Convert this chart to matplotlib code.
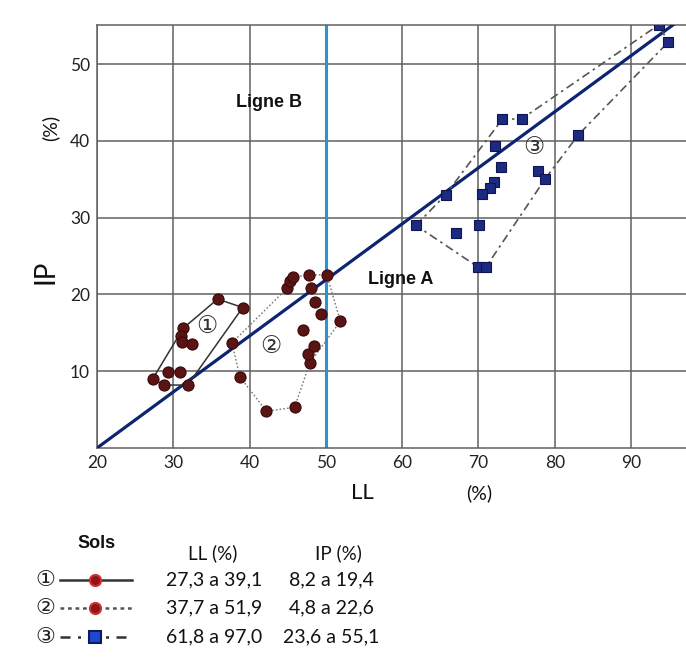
import matplotlib
matplotlib.use("Agg")
import matplotlib.pyplot as plt
from matplotlib.lines import Line2D
import numpy as np

# ---------------- data ----------------
soil1_ll = [35.8, 39.1, 31.3, 31.0, 31.1, 32.4, 27.3, 29.3, 30.9, 28.8, 31.9]
soil1_ip = [19.4, 18.3, 15.6, 14.6, 13.8, 13.6, 9.0, 9.9, 9.9, 8.2, 8.2]
soil1_hull = [6, 9, 10, 1, 0, 2, 6]

soil2_ll = [37.7, 38.7, 42.2, 45.9, 47.9, 47.6, 48.5, 47.0, 49.3, 48.6, 48.1,
            51.9, 44.9, 45.3, 45.7, 47.8, 50.1]
soil2_ip = [13.7, 9.3, 4.8, 5.3, 11.1, 12.3, 13.3, 15.4, 17.5, 19.0, 20.9,
            16.5, 20.8, 21.7, 22.3, 22.5, 22.6]
soil2_hull = [0, 12, 13, 14, 15, 16, 11, 4, 3, 2, 1, 0]

soil3_ll = [73.1, 75.7, 72.2, 83.1, 73.0, 77.8, 78.7, 72.0, 71.5, 70.4, 65.7,
            61.8, 67.1, 70.1, 69.9, 71.0, 93.6, 94.9]
soil3_ip = [42.8, 42.9, 39.4, 40.8, 36.6, 36.1, 35.0, 34.6, 33.9, 33.1, 33.0,
            29.0, 28.0, 29.1, 23.6, 23.6, 55.1, 52.9]
soil3_hull = [11, 10, 0, 1, 16, 17, 3, 6, 15, 14, 11]

x_ticks = [20, 30, 40, 50, 60, 70, 80, 90]
y_ticks = [10, 20, 30, 40, 50]

line_a_ll = [20, 100]
line_a_slope = 0.73
line_b_ll = 50

soil_ids = ["①", "②", "③"]
legend_ll = ["27,3 a 39,1", "37,7 a 51,9", "61,8 a 97,0"]
legend_ip = ["8,2 a 19,4", "4,8 a 22,6", "23,6 a 55,1"]

# ---------------- figure ----------------
W, H = 686, 657
fig = plt.figure(figsize=(W / 100, H / 100), dpi=100)
fig.patch.set_facecolor("white")

# pixel-coordinate overlay for labels / legend
lax = fig.add_axes([0, 0, 1, 1], zorder=5)
lax.set_xlim(0, W)
lax.set_ylim(H, 0)
lax.axis("off")
lax.patch.set_alpha(0)

ax = fig.add_axes([97 / W, 1 - 448 / H, (W - 97) / W, (448 - 25) / H])
ax.set_xlim(20, 97.2)
ax.set_ylim(0, 55.1)

gridc = "#606060"
ax.set_xticks(x_ticks)
ax.set_yticks(y_ticks)
ax.grid(True, color=gridc, lw=1.1, zorder=0)
for s in ["left", "bottom", "top"]:
    ax.spines[s].set_color(gridc)
    ax.spines[s].set_linewidth(1.1)
ax.spines["right"].set_visible(False)
ax.tick_params(length=0, labelsize=12.5, colors="#222222", pad=5)
for lab in ax.get_xticklabels() + ax.get_yticklabels():
    lab.set_fontfamily("Lato")

# Ligne B
ax.axvline(line_b_ll, color="#2a93d5", lw=2.2, zorder=2)
# Ligne A
xa = np.array(line_a_ll, dtype=float)
ax.plot(xa, line_a_slope * (xa - 20), color="#0d2470", lw=2.3, zorder=3)

# hulls
h1x = [soil1_ll[i] for i in soil1_hull]
h1y = [soil1_ip[i] for i in soil1_hull]
ax.plot(h1x, h1y, color="#333333", lw=1.1, ls="-", zorder=3)
h2x = [soil2_ll[i] for i in soil2_hull]
h2y = [soil2_ip[i] for i in soil2_hull]
ax.plot(h2x, h2y, color="#777777", lw=1.0, ls=(0, (1.2, 1.5)), zorder=3)
h3x = [soil3_ll[i] for i in soil3_hull]
h3y = [soil3_ip[i] for i in soil3_hull]
ax.plot(h3x, h3y, color="#555555", lw=1.2, ls=(0, (5, 2.5, 1.5, 2.5)), zorder=3)

# points
ax.plot(soil1_ll, soil1_ip, "o", ms=8, mfc="#5a1414", mec="#3a0808", mew=0.8, zorder=4, clip_on=False)
ax.plot(soil2_ll, soil2_ip, "o", ms=8, mfc="#5a1414", mec="#3a0808", mew=0.8, zorder=4, clip_on=False)
ax.plot(soil3_ll, soil3_ip, "s", ms=7, mfc="#1c2a80", mec="#0e1550", mew=0.8, zorder=4, clip_on=True)

# circled labels in plot
ax.text(34.4, 15.9, "①", fontsize=17, ha="center", va="center", color="#333333",
        family="DejaVu Sans", zorder=5)
ax.text(42.8, 13.3, "②", fontsize=17, ha="center", va="center", color="#333333",
        family="DejaVu Sans", zorder=5)
ax.text(77.3, 39.2, "③", fontsize=17, ha="center", va="center", color="#333333",
        family="DejaVu Sans", zorder=5)

ax.text(42.5, 45.0, "Ligne B", fontsize=13, fontweight="bold", ha="center", va="center",
        family="Liberation Sans", color="#111111")
ax.text(59.8, 21.9, "Ligne A", fontsize=13, fontweight="bold", ha="center", va="center",
        family="Liberation Sans", color="#111111")

# axis labels (pixel placement)
lax.text(362, 493, "LL", fontsize=16, ha="center", va="center", family="Lato", color="#111111")
lax.text(479, 493, "(%)", fontsize=14, ha="center", va="center", family="Lato", color="#111111")
lax.text(45, 272, "IP", fontsize=20, ha="center", va="center", rotation=90, family="Lato", color="#111111")
lax.text(50, 128, "(%)", fontsize=14, ha="center", va="center", rotation=90, family="Lato", color="#111111")

# legend
lax.text(97, 543, "Sols", fontsize=13, fontweight="bold", ha="center", va="center",
         family="Liberation Sans", color="#111111")
lax.text(213, 553, "LL (%)", fontsize=13.5, ha="center", va="center", family="Lato", color="#111111")
lax.text(338, 553, "IP (%)", fontsize=13.5, ha="center", va="center", family="Lato", color="#111111")

row_y = [580, 608, 637]
styles = [
    dict(ls="-", color="#333333", lw=1.8, marker="o", mfc="#8e1616", mec="#d03030"),
    dict(ls=(0, (1.5, 1.5)), color="#555555", lw=1.8, marker="o", mfc="#8e1616", mec="#d03030"),
    dict(ls=(0, (4, 3, 1.2, 3)), color="#333333", lw=1.8, marker="s", mfc="#1f48d0", mec="#101a60"),
]
for i, y in enumerate(row_y):
    lax.text(45, y, soil_ids[i], fontsize=16, ha="center", va="center",
             family="DejaVu Sans", color="#222222")
    st = styles[i]
    lax.add_line(Line2D([60, 132], [y, y], ls=st["ls"], color=st["color"], lw=st["lw"]))
    lax.add_line(Line2D([95], [y], ls="none", marker=st["marker"], ms=8,
                        mfc=st["mfc"], mec=st["mec"], mew=1.5))
    lax.text(214, y, legend_ll[i], fontsize=14, ha="center", va="center", family="Lato", color="#111111")
    lax.text(331, y, legend_ip[i], fontsize=14, ha="center", va="center", family="Lato", color="#111111")

fig.savefig("out.png", dpi=100, facecolor="white")
